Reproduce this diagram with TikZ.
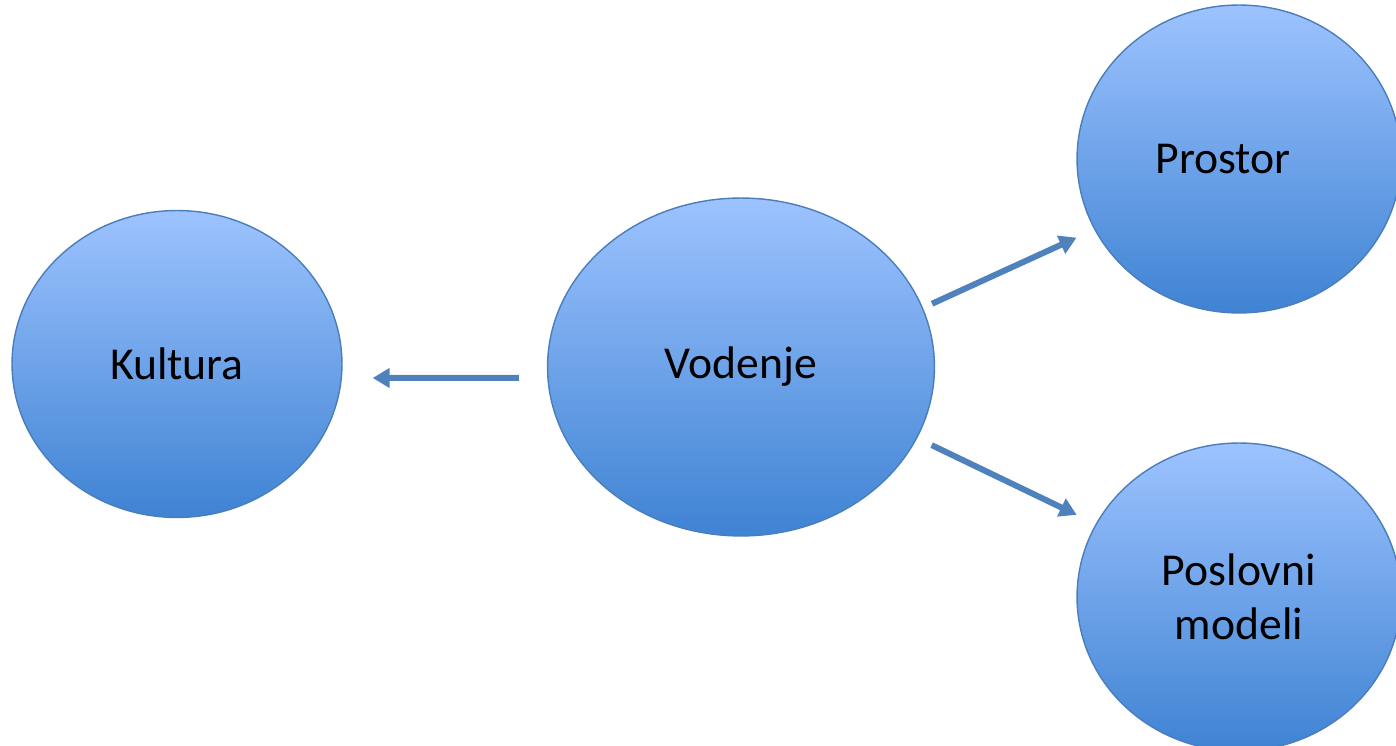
\documentclass[tikz,border=0pt]{standalone}
\usepackage{fontspec}
\setmainfont{Carlito}
\usetikzlibrary{shapes.geometric, arrows.meta}
\definecolor{bubbleTop}{HTML}{9DC3FF}
\definecolor{bubbleBottom}{HTML}{3F83D3}
\definecolor{bubbleLine}{HTML}{4A7EBB}
\definecolor{arrowBlue}{HTML}{4F81BD}
\tikzset{
    x=0.02cm, y=-0.02cm, % one unit is one pixel of the sketch, y runs downwards
    bubble/.style={ellipse, draw=bubbleLine, line width=0.8pt,
        top color=bubbleTop, bottom color=bubbleBottom,
        inner sep=0pt, align=center, font=\fontsize{26}{31}\selectfont}, % the blue ovals
    link/.style={-{Triangle[length=0.34cm, width=0.38cm]}, draw=arrowBlue, line width=0.12cm}, % thick blue arrows
}
\begin{document}
\begin{tikzpicture}[
                                bigBubble/.style={minimum width=7.74cm, minimum height=6.76cm},
                                sideBubble/.style={minimum width=6.48cm, minimum height=6.16cm},
                            ]
                            \useasboundingbox (0,0) rectangle (1396,746);
                            \clip (0,0) rectangle (1396,746);
                            \node[bubble, minimum width=6.6cm, minimum height=6.14cm] (kul) at (177,364) {Kultura};
                            \node[bubble, bigBubble] (vod) at (741,367) {Vodenje};
                            \node[bubble, sideBubble] (pro) at (1239,159) {\hspace*{-0.64cm}Prostor};
                            \node[bubble, sideBubble] (pos) at (1239,597) {Poslovni\\modeli};
                            \draw
                            ([yshift=-0.22cm]vod.west) edge[link, shorten <=0.56cm, shorten >=0.6cm] ([yshift=-0.28cm]kul.east)
                            (vod.18) edge[link, shorten <=0.2cm, shorten >=0.39cm] (pro.206)
                            (vod.-22) edge[link, shorten <=0.32cm, shorten >=0.42cm] (pos.153);
                        \end{tikzpicture}
\end{document}
